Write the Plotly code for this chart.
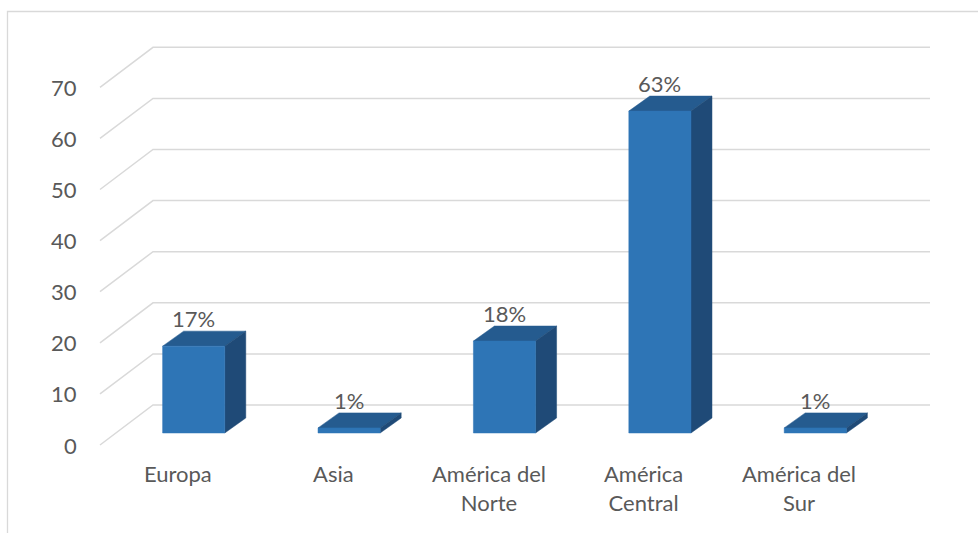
import plotly.graph_objects as go

categories = ["Europa", "Asia", "América del<br>Norte", "América<br>Central", "América del<br>Sur"]
values = [17, 1, 18, 63, 1]
pct_labels = ["17%", "1%", "18%", "63%", "1%"]
y_ticks = [0, 10, 20, 30, 40, 50, 60, 70]

W, H = 978, 533
# back wall placement in pixels
X0_PX, CAT_PX = 153, 155.4
Y0_PX, UNIT_PX = 405, 5.11
BAR_W = 0.4
FONT = dict(family="Lato, Calibri, sans-serif", size=22, color="#595959")
GRID = "#d9d9d9"


def dx(px):
    return px / CAT_PX


def dy(px):
    # pixels downward -> value units
    return -px / UNIT_PX


n = len(categories)
front = (dx(-53), dy(40))      # front edge of floor
bar_f = (dx(-37), dy(28))      # bar front face
bar_b = (dx(-16), dy(13))      # bar back face

fig = go.Figure()

# back wall gridlines + diagonal side lines
gx, gy = [], []
for v in y_ticks:
    gx += [-0.5 + front[0], -0.5, n - 0.5, None]
    gy += [v + front[1], v, v, None]
fig.add_trace(go.Scatter(x=gx, y=gy, mode="lines", line=dict(color=GRID, width=1.5),
                         hoverinfo="skip"))

# bar faces
top_x, top_y, side_x, side_y, fr_x, fr_y = [], [], [], [], [], []
for i, v in enumerate(values):
    l, r = i - BAR_W / 2, i + BAR_W / 2
    fl, fr = l + bar_f[0], r + bar_f[0]
    bl, br = l + bar_b[0], r + bar_b[0]
    f0, f1 = bar_f[1], v + bar_f[1]
    b0, b1 = bar_b[1], v + bar_b[1]
    fr_x += [fl, fr, fr, fl, fl, None]
    fr_y += [f0, f0, f1, f1, f0, None]
    top_x += [fl, fr, br, bl, fl, None]
    top_y += [f1, f1, b1, b1, f1, None]
    side_x += [fr, br, br, fr, fr, None]
    side_y += [f1, b1, b0, f0, f1, None]

for xs, ys, col in [(top_x, top_y, "#255b8f"), (side_x, side_y, "#1f4a77"),
                    (fr_x, fr_y, "#2e75b6")]:
    fig.add_trace(go.Scatter(x=xs, y=ys, mode="lines", fill="toself", fillcolor=col,
                             line=dict(color=col, width=0.5), hoverinfo="skip"))

# percent labels
for i, v in enumerate(values):
    fig.add_annotation(x=i + bar_f[0], y=v + bar_b[1], text=pct_labels[i], showarrow=False,
                       xanchor="center", yanchor="bottom", yshift=-3, font=FONT)

# category labels
for i, c in enumerate(categories):
    fig.add_annotation(x=i + front[0], y=front[1], text=c, showarrow=False,
                       xanchor="center", yanchor="top", yshift=-13, font=FONT)

# value axis labels
for v in y_ticks:
    fig.add_annotation(x=-0.5 + front[0], y=v + front[1], text=str(v), showarrow=False,
                       xanchor="right", yanchor="middle", xshift=-21, font=FONT)

# chart border
fig.add_shape(type="rect", xref="paper", yref="paper", x0=7.5 / W, x1=1.02,
              y0=-0.05, y1=1 - 11.5 / H, line=dict(color=GRID, width=1.3))

fig.update_layout(
    width=W, height=H, margin=dict(l=0, r=0, t=0, b=0),
    paper_bgcolor="white", plot_bgcolor="white", showlegend=False,
    xaxis=dict(visible=False, range=[-0.5 - X0_PX / CAT_PX, -0.5 + (W - X0_PX) / CAT_PX]),
    yaxis=dict(visible=False, range=[(Y0_PX - H) / UNIT_PX, Y0_PX / UNIT_PX]),
)

fig.write_html("out.html", config={"displayModeBar": False},
               post_script="document.body.style.margin='0';")
